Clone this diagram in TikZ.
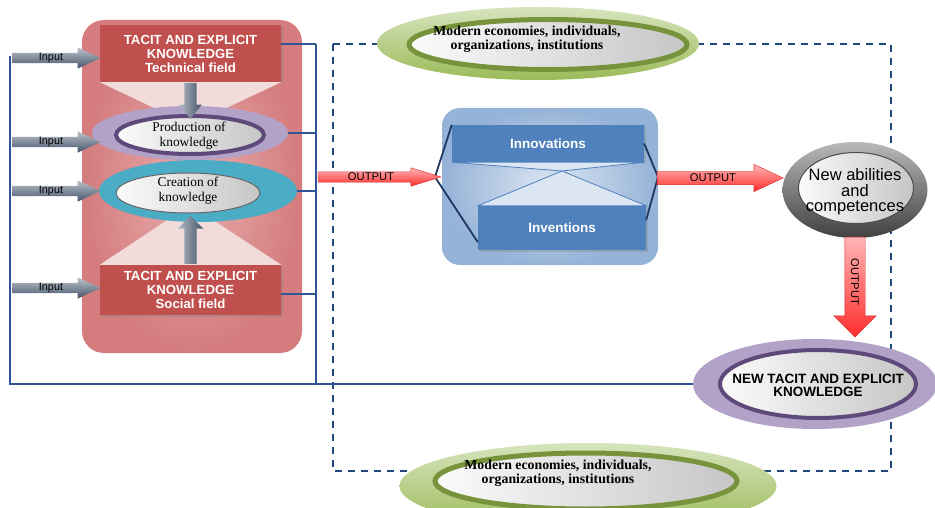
\documentclass[tikz,border=0pt]{standalone}
\usepackage{fontspec}
\setmainfont{Liberation Serif}
\setsansfont{Liberation Sans}
\usetikzlibrary{shapes.geometric,shapes.arrows,shadows}

\definecolor{boxred}{HTML}{C0504D}
\definecolor{panelred}{HTML}{D47C7E}
\definecolor{panellight}{HTML}{E8AEAE}
\definecolor{palepink}{HTML}{F2DCDB}
\definecolor{lilac}{HTML}{B3A2C7}
\definecolor{plum}{HTML}{5F497A}
\definecolor{seablue}{HTML}{4BACC6}
\definecolor{leaf}{HTML}{9BBB59}
\definecolor{leaflight}{HTML}{D7E4BD}
\definecolor{moss}{HTML}{77933C}
\definecolor{skyblue}{HTML}{95B3D7}
\definecolor{skylight}{HTML}{DCE6F2}
\definecolor{boxblue}{HTML}{4F81BD}
\definecolor{navy}{HTML}{1F3864}
\definecolor{linkblue}{HTML}{2F5597}
\definecolor{frameblue}{HTML}{1F497D}
\definecolor{slate}{HTML}{44546A}
\definecolor{arrowred}{HTML}{FF2D2D}

\tikzset{
  redbox/.style={rectangle, fill=boxred, text=white, align=center, inner sep=0pt,
    font=\sffamily\bfseries\fontsize{13.2}{14}\selectfont,
    drop shadow={opacity=0.35, shadow xshift=1.5pt, shadow yshift=-1.5pt}},
  bluebox/.style={rectangle, fill=boxblue, text=white, inner sep=0pt,
    font=\sffamily\bfseries\fontsize{13.5}{14}\selectfont,
    drop shadow={opacity=0.35, shadow xshift=1.5pt, shadow yshift=-1.5pt}},
  panel/.style={rectangle, rounded corners=22, inner color=panellight, outer color=panelred},
  bluepanel/.style={rectangle, rounded corners=18, inner color=skylight, outer color=skyblue},
  ell/.style={ellipse, inner sep=0pt},
  core/.style={ellipse, inner sep=0pt, left color=gray!3, right color=gray!45},
  seriftext/.style={align=center, font=\fontsize{13.4}{15}\selectfont},
  modtext/.style={align=center, font=\bfseries\fontsize{13.8}{14}\selectfont},
  sanstext/.style={align=center, font=\sffamily\fontsize{16.5}{15.5}\selectfont},
  sansbold/.style={align=center, font=\sffamily\bfseries\fontsize{13.5}{13}\selectfont},
  inarrow/.style={single arrow, minimum height=88, inner xsep=0pt, inner ysep=0.5pt,
    text height=7pt, text depth=2pt, single arrow head extend=5.5pt,
    single arrow tip angle=50, top color=slate!35, bottom color=slate,
    font=\sffamily\fontsize{10.8}{11}\selectfont},
  grayarrow/.style={single arrow, inner xsep=0pt, inner ysep=6pt, text height=0pt,
    text depth=0pt, left color=slate!40, right color=slate},
  outarrow/.style={single arrow, inner xsep=0pt, inner ysep=1pt, text height=8pt,
    text depth=0pt, single arrow head extend=4pt, single arrow tip angle=34,
    top color=arrowred!35, bottom color=arrowred, draw=arrowred!85!black, line width=0.4pt,
    font=\sffamily\fontsize{11.2}{11}\selectfont},
  link/.style={draw=linkblue, line width=1.8pt},
  brace/.style={draw=navy, line width=1.8pt},
  wedge/.style={fill=skylight, draw=boxblue, line width=0.8pt},
  frame/.style={draw=frameblue, line width=2pt, dash pattern=on 7pt off 6pt}
}

\begin{document}
\begin{tikzpicture}[x=1pt,y=-1pt]
  \useasboundingbox (0,0) rectangle (935,508);

  % dashed frame round the right part
  \draw[frame] (333,44) rectangle (891,471);

  % left panel
  \node[panel, minimum width=220, minimum height=333] (panel) at (192,186.5) {};
  \node[redbox, minimum width=181, minimum height=57] (tech) at (190.5,53.5)
    {TACIT AND EXPLICIT\\KNOWLEDGE\\Technical field};
  \node[redbox, minimum width=181, minimum height=50] (soc) at (190.5,290)
    {TACIT AND EXPLICIT\\KNOWLEDGE\\Social field};
  \fill[palepink] (tech.south west) -- (tech.south east) -- (190,125) -- cycle;
  \fill[palepink] (soc.north west) -- (soc.north east) -- (190,205) -- cycle;

  \node[ell, fill=lilac, minimum width=196, minimum height=54] (prod) at (190,133) {};
  \node[core, draw=plum, line width=4pt, minimum width=148, minimum height=38] (prodcore) at (190,135) {};
  \node[seriftext] (prodtxt) at (189,136) {Production of\\knowledge};

  \node[ell, fill=seablue, minimum width=198, minimum height=62] (crea) at (198,191) {};
  \node[core, draw=black!60, line width=1pt, minimum width=144, minimum height=40] (creacore) at (188,193) {};
  \node[seriftext] (creatxt) at (188,191) {Creation of\\knowledge};

  \node[grayarrow, rotate=-90, minimum height=36, single arrow head extend=5pt,
    single arrow tip angle=76] (down) at (190.5,97) {};
  \node[grayarrow, rotate=90, minimum height=48, single arrow head extend=6.5pt,
    single arrow tip angle=90] (up) at (190.5,243) {};

  \draw (51,58) node[inarrow] (in1) {Input}
        (51,142) node[inarrow] (in2) {Input}
        (51,191) node[inarrow] (in3) {Input}
        (51,288) node[inarrow] (in4) {Input};

  % green ellipses on the frame
  \node[ell, top color=leaflight, bottom color=leaf, minimum width=322, minimum height=73] (envtop) at (538,43.5) {};
  \node[core, draw=moss, line width=5pt, minimum width=278, minimum height=50] (envtopcore) at (548,44.5) {};
  \node[modtext] (envtoptxt) at (527,39) {Modern economies, individuals,\\organizations, institutions};

  \node[ell, top color=leaflight, bottom color=leaf, minimum width=377, minimum height=86] (envbot) at (588,486) {};
  \node[core, draw=moss, line width=5pt, minimum width=302, minimum height=56] (envbotcore) at (586,481) {};
  \node[modtext] (envbottxt) at (558,473) {Modern economies, individuals,\\organizations, institutions};

  % innovations and inventions
  \node[bluepanel, minimum width=216, minimum height=157] (inv) at (550,186.5) {};
  \node[bluebox, minimum width=192, minimum height=37] (inno) at (548,143.5) {Innovations};
  \node[bluebox, minimum width=168, minimum height=44] (inve) at (562,228) {Inventions};
  \coordinate (mid) at (562,171);
  \filldraw[wedge] (inno.south west) -- (inno.south east) -- (mid) -- cycle;
  \filldraw[wedge] (inve.north west) -- (inve.north east) -- (mid) -- cycle;
  \coordinate (lb) at (435,177);
  \coordinate (rb) at (658,177);
  \draw[brace] (inno.north west) -- (lb) -- ([yshift=8pt]inve.south west);
  \draw[brace] (inno.east) -- (rb) -- ([yshift=8pt]inve.east);

  % results
  \node[ell, top color=gray!55, bottom color=black!75, minimum width=145, minimum height=96] (abil) at (855,190) {};
  \node[core, draw=black!70, line width=1pt, minimum width=115, minimum height=71] (abilcore) at (856,188) {};
  \node[sanstext] (abiltxt) at (855,192) {New abilities\\and\\competences};

  \node[ell, fill=lilac, minimum width=244, minimum height=90] (newk) at (815,384) {};
  \node[core, draw=plum, line width=4pt, minimum width=196, minimum height=68] (newkcore) at (818,384) {};
  \node[sansbold] (newktxt) at (818,385) {NEW TACIT AND EXPLICIT\\KNOWLEDGE};

  \node[outarrow, minimum height=123] (out1) at (371,177) {OUTPUT};
  \node[outarrow, minimum height=126, inner ysep=2.5pt, single arrow head extend=7pt,
    single arrow tip angle=50] (out2) at (713,178) {OUTPUT};
  \node[outarrow, rotate=-90, minimum height=100, inner ysep=6pt, single arrow head extend=11pt,
    single arrow tip angle=90] (out3) at (855,282) {OUTPUT};

  % feedback lines
  \coordinate (tl) at (10,56);
  \coordinate (rt) at (316,44);
  \coordinate (rs) at (316,294);
  \coordinate (rbot) at (316,384);
  \begin{scope}[link]
    \draw (tl) |- (newk.west);
    \draw (rt) -- (rbot);
    \draw (tech.east |- rt) -- (rt);
    \draw (prod.east) -- (prod.east -| rt);
    \draw (crea.east) -- (crea.east -| rt);
    \draw (soc.east |- rs) -- (rs);
  \end{scope}
\end{tikzpicture}
\end{document}
